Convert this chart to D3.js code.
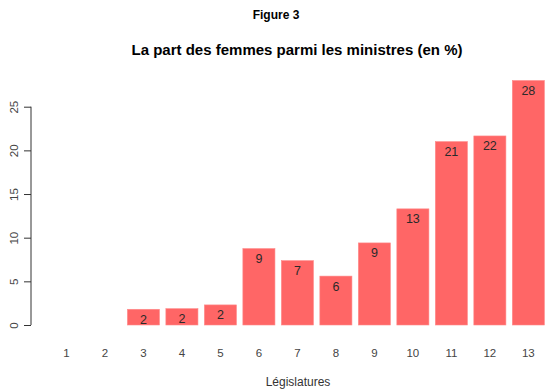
<!DOCTYPE html>
<html>
<head>
<meta charset="utf-8">
<script src="https://cdn.jsdelivr.net/npm/d3@7"></script>
<style>
  body { margin: 0; background: #fff; }
  svg { display: block; font-family: Arial, "Liberation Sans", sans-serif; }
</style>
</head>
<body>
<svg id="chart" width="550" height="391"></svg>
<script>
// share of women among ministers, per legislature
var legislatures = ['1', '2', '3', '4', '5', '6', '7', '8', '9', '10', '11', '12', '13'];
var shares = [0, 0, 1.8, 1.87, 2.3, 8.75, 7.37, 5.6, 9.4, 13.3, 21.0, 21.65, 28.0];
var yTicks = [0, 5, 10, 15, 20, 25];

var rows = legislatures.map(function(l, i) { return {leg: l, value: shares[i]}; });

var svg = d3.select('#chart');

var x = d3.scaleBand()
    .domain(legislatures)
    .range([50.4, 544.4])
    .paddingInner(1 / 6)
    .paddingOuter(0);

var y = d3.scaleLinear()
    .domain([0, 25])
    .range([325, 106.7]);

// bars
svg.selectAll('rect.bar')
    .data(rows)
  .enter().append('rect')
    .attr('class', 'bar')
    .attr('x', function(d) { return x(d.leg); })
    .attr('width', x.bandwidth())
    .attr('y', function(d) { return y(d.value); })
    .attr('height', function(d) { return y(0) - y(d.value); })
    .attr('fill', '#ff6666')
    .attr('stroke', '#ff8a8a')
    .attr('stroke-width', 0.6);

// rounded value labels, skipped for empty legislatures
svg.selectAll('text.val')
    .data(rows.filter(function(d) { return d.value > 0; }))
  .enter().append('text')
    .attr('class', 'val')
    .attr('x', function(d) { return x(d.leg) + x.bandwidth() / 2; })
    .attr('y', function(d) { return y(d.value) + 14.5; })
    .attr('text-anchor', 'middle')
    .attr('font-size', 12.5)
    .attr('fill', '#2a2a2a')
    .text(function(d) { return Math.round(d.value); });

// y axis
var yAxis = d3.axisLeft(y).tickValues(yTicks).tickSize(7).tickFormat(d3.format('d'));
var gy = svg.append('g')
    .attr('transform', 'translate(31,0)')
    .call(yAxis);
gy.select('.domain').attr('d', 'M0,' + y(25) + 'V' + y(0)).attr('stroke', '#333');
gy.selectAll('.tick line').attr('stroke', '#333');
gy.selectAll('.tick text')
    .attr('transform', 'translate(-17,0) rotate(-90)')
    .attr('x', 0)
    .attr('y', 0)
    .attr('dy', '0.35em')
    .attr('text-anchor', 'middle')
    .attr('font-size', 11.5)
    .attr('font-family', 'Arial, "Liberation Sans", sans-serif')
    .attr('fill', '#444');

// x labels (no axis line)
svg.selectAll('text.xlab')
    .data(legislatures)
  .enter().append('text')
    .attr('class', 'xlab')
    .attr('x', function(d) { return x(d) + x.bandwidth() / 2; })
    .attr('y', 357)
    .attr('text-anchor', 'middle')
    .attr('font-size', 11.5)
    .attr('fill', '#444')
    .text(function(d) { return d; });

// titles
svg.append('text')
    .attr('x', 276)
    .attr('y', 19)
    .attr('text-anchor', 'middle')
    .attr('font-size', 12)
    .attr('font-weight', 'bold')
    .text('Figure 3');

svg.append('text')
    .attr('x', 297)
    .attr('y', 55)
    .attr('text-anchor', 'middle')
    .attr('font-size', 15)
    .attr('font-weight', 'bold')
    .text('La part des femmes parmi les ministres (en %)');

svg.append('text')
    .attr('x', 298)
    .attr('y', 386)
    .attr('text-anchor', 'middle')
    .attr('font-size', 12)
    .attr('fill', '#333')
    .text('Législatures');
</script>
</body>
</html>
